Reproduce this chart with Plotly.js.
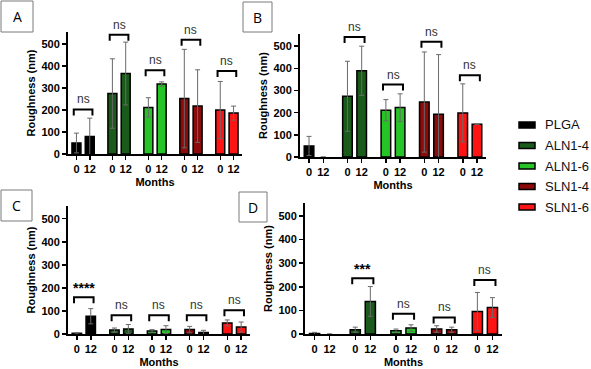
<!DOCTYPE html>
<html>
<head>
<meta charset="utf-8">
<script src="https://cdn.plot.ly/plotly-3.0.1.min.js"></script>
<style>
  body { margin: 0; background: #fff; }
  #chart { width: 591px; height: 369px; }
</style>
</head>
<body>
<div id="chart"></div>
<script>
// roughness of films at 0 and 12 months, four panels A-D

const groups = ["PLGA", "ALN1-4", "ALN1-6", "SLN1-4", "SLN1-6"];
const months = ["0", "12"];
const colors = ["#000000", "#1a5a1a", "#26c426", "#8c0a0a", "#ff1414"];

// panel A
const meanA0 = [50, 275, 212, 252, 200];
const meanA12 = [80, 366, 318, 218, 186];
const sdA0 = [45, 158, 44, 224, 130];
const sdA12 = [83, 143, 10, 165, 32];
const sigA = ["ns", "ns", "ns", "ns", "ns"];
const bracketA = [203, 543, 381, 520, 378];

// panel B
const meanB0 = [50, 274, 211, 248, 199];
const meanB12 = [0, 389, 223, 193, 148];
const sdB0 = [43, 158, 48, 226, 131];
const sdB12 = [0, 111, 62, 269, 0];
const sigB = [null, "ns", "ns", "ns", "ns"];
const bracketB = [null, 542, 327, 520, 369];

// panel C
const meanC0 = [3, 17, 13, 19, 48];
const meanC12 = [77, 22, 19, 7, 30];
const sdC0 = [3, 9, 6, 14, 13];
const sdC12 = [33, 19, 17, 9, 22];
const sigC = ["****", "ns", "ns", "ns", "ns"];
const bracketC = [159, 81, 81, 81, 103];

// panel D
const meanD0 = [2, 18, 14, 21, 95];
const meanD12 = [0, 138, 25, 18, 112];
const sdD0 = [5, 11, 7, 14, 81];
const sdD12 = [0, 63, 14, 11, 42];
const sigD = [null, "***", "ns", "ns", "ns"];
const bracketD = [null, 236, 86, 70, 229];

const W = 591, H = 369;
const XR = [-0.42, 4.42];
const YMAX = 555;
const OFF = 0.185;
const FONT = "Liberation Sans, Arial, sans-serif";

// plot areas in pixels: left, right, top, bottom
const panels = [
  { label: "A", ax: "", area: [68, 242, 32, 154], box: [1, 33, 1, 32],
    m0: meanA0, m12: meanA12, s0: sdA0, s12: sdA12, sig: sigA, br: bracketA },
  { label: "B", ax: "2", area: [300, 486, 34, 157], box: [243, 272, 2, 32],
    m0: meanB0, m12: meanB12, s0: sdB0, s12: sdB12, sig: sigB, br: bracketB },
  { label: "C", ax: "3", area: [68, 250, 206, 334], box: [1, 32, 190, 221],
    m0: meanC0, m12: meanC12, s0: sdC0, s12: sdC12, sig: sigC, br: bracketC },
  { label: "D", ax: "4", area: [305, 502, 203, 334], box: [239, 267, 192, 222],
    m0: meanD0, m12: meanD12, s0: sdD0, s12: sdD12, sig: sigD, br: bracketD },
];

function xDom(p) { return [p.area[0] / W, p.area[1] / W]; }
function yDom(p) { return [1 - p.area[3] / H, 1 - p.area[2] / H]; }
function px(p, x) {
  const d = xDom(p);
  return d[0] + (x - XR[0]) / (XR[1] - XR[0]) * (d[1] - d[0]);
}
function py(p, v) {
  const d = yDom(p);
  return d[0] + v / YMAX * (d[1] - d[0]);
}

const traces = [];
const shapes = [];
const annotations = [];
const layout = {
  width: W,
  height: H,
  margin: { l: 0, r: 0, t: 0, b: 0 },
  paper_bgcolor: "#fff",
  plot_bgcolor: "rgba(0,0,0,0)",
  barmode: "overlay",
  showlegend: false,
  font: { family: FONT },
};

const tickvals = [];
const ticktext = [];
groups.forEach((g, i) => {
  tickvals.push(i - OFF, i + OFF);
  ticktext.push(months[0], months[1]);
});

panels.forEach((p, pi) => {
  groups.forEach((g, i) => {
    traces.push({
      type: "bar",
      name: g,
      x: [i - OFF, i + OFF],
      y: [p.m0[i], p.m12[i]],
      width: 0.25,
      xaxis: "x" + p.ax,
      yaxis: "y" + p.ax,
      marker: {
        color: colors[i],
        // no outline on empty bars
        line: { color: "#000", width: [p.m0[i] ? 1.5 : 0, p.m12[i] ? 1.5 : 0] },
      },
      error_y: {
        type: "data",
        array: [p.s0[i], p.s12[i]],
        visible: true,
        color: "#6a6a6a",
        thickness: 1,
        width: 2.5,
      },
      hoverinfo: "skip",
    });

    // significance bracket
    if (p.sig[i]) {
      const x0 = px(p, i - 0.26), x1 = px(p, i + 0.26);
      const yb = py(p, p.br[i]);
      const leg = 6 / H;
      shapes.push({
        type: "path",
        xref: "paper", yref: "paper",
        path: `M ${x0},${yb - leg} L ${x0},${yb} L ${x1},${yb} L ${x1},${yb - leg}`,
        line: { color: "#000", width: 2 },
      });
      const star = p.sig[i] !== "ns";
      annotations.push({
        xref: "paper", yref: "paper",
        x: (x0 + x1) / 2, y: yb,
        xanchor: "center", yanchor: "bottom",
        yshift: star ? -1 : 1,
        text: p.sig[i],
        showarrow: false,
        font: star
          ? { family: FONT, size: 14, color: "#000", weight: "bold" }
          : { family: FONT, size: 12, color: "#333" },
      });
    }
  });

  const axisFont = { family: FONT, size: 11, color: "#000", weight: "bold" };
  layout["xaxis" + p.ax] = {
    domain: xDom(p),
    anchor: "y" + p.ax,
    range: XR,
    tickvals: tickvals,
    ticktext: ticktext,
    ticks: "outside",
    ticklen: 4,
    tickwidth: 1.5,
    tickcolor: "#000",
    tickfont: axisFont,
    showline: true,
    linecolor: "#000",
    linewidth: 2,
    showgrid: false,
    zeroline: false,
    title: { text: "Months", font: axisFont, standoff: 4 },
  };
  layout["yaxis" + p.ax] = {
    domain: yDom(p),
    anchor: "x" + p.ax,
    range: [0, YMAX],
    tickvals: [0, 100, 200, 300, 400, 500],
    ticks: "outside",
    ticklen: 4,
    tickwidth: 1.5,
    tickcolor: "#000",
    tickfont: axisFont,
    showline: true,
    linecolor: "#000",
    linewidth: 2,
    showgrid: false,
    zeroline: false,
    title: { text: "Roughness (nm)", font: axisFont, standoff: 4 },
  };

  // panel letter box
  const b = p.box;
  shapes.push({
    type: "rect",
    xref: "paper", yref: "paper",
    x0: b[0] / W, x1: b[1] / W,
    y0: 1 - b[3] / H, y1: 1 - b[2] / H,
    line: { color: "#7a7a7a", width: 1 },
    fillcolor: "#fff",
  });
  annotations.push({
    xref: "paper", yref: "paper",
    x: (b[0] + b[1]) / 2 / W, y: 1 - (b[2] + b[3]) / 2 / H,
    xanchor: "center", yanchor: "middle",
    text: p.label,
    showarrow: false,
    font: { family: "Open Sans, sans-serif", size: 14, color: "#000" },
  });
});

// legend: wide flat swatches like the original figure
groups.forEach((g, i) => {
  const yc = 125 + i * 20.5;
  shapes.push({
    type: "rect",
    xref: "paper", yref: "paper",
    x0: 519 / W, x1: 535 / W,
    y0: 1 - (yc + 3) / H, y1: 1 - (yc - 3) / H,
    line: { color: "#000", width: 1.5 },
    fillcolor: colors[i],
  });
  annotations.push({
    xref: "paper", yref: "paper",
    x: 543 / W, y: 1 - yc / H,
    xanchor: "left", yanchor: "middle",
    text: g,
    showarrow: false,
    font: { family: FONT, size: 13, color: "#111" },
  });
});

layout.shapes = shapes;
layout.annotations = annotations;

Plotly.newPlot("chart", traces, layout, { displayModeBar: false, staticPlot: true });
</script>
</body>
</html>
